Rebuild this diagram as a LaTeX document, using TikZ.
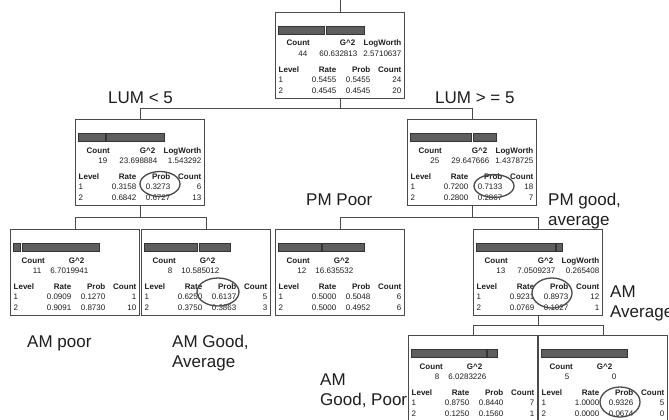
\documentclass[tikz,border=0pt]{standalone}
\usepackage{fontspec}
\setmainfont{Liberation Sans}
\usetikzlibrary{calc}
\definecolor{boxline}{HTML}{4A4A4A}
\definecolor{barfill}{HTML}{5E5E5E}
\definecolor{bardraw}{HTML}{353535}
\definecolor{inktext}{HTML}{1E1E1E}
\definecolor{circ}{HTML}{4A4A4A}
\tikzset{
  tbox/.style={draw=boxline, line width=0.9pt, minimum width=129pt, minimum height=86pt,
    inner sep=0pt, outer sep=0pt, anchor=north, fill=white},
  hd/.style={font=\fontsize{8}{9}\selectfont\bfseries, text=inktext, inner sep=0pt},
  vl/.style={font=\fontsize{8}{9}\selectfont, text=inktext, inner sep=0pt},
  lab/.style={font=\fontsize{17}{20}\selectfont, text=inktext, inner sep=0pt, anchor=base west},
  conn/.style={draw=boxline, line width=0.9pt},
  barseg/.style={fill=barfill, draw=bardraw, line width=0.6pt},
  ring/.style={draw=circ, line width=1.3pt},
}
\newcommand\twobars[1]{%
  \pgfmathsetmacro\splitx{3+86*#1}%
  \draw[barseg] (3,14) rectangle (\splitx-0.7,22);
  \draw[barseg] (\splitx+0.7,14) rectangle (89,22);
}
\newcommand\headS[4]{%
  \node[hd,anchor=base west] (#1hc) at (11,34) {Count};
  \node[hd,anchor=base east] (#1hg) at (80,34) {G\textasciicircum 2};
  \node[hd,anchor=base east] (#1hl) at (126,34) {LogWorth};
  \node[vl,anchor=base east] (#1vc) at (32,44.5) {#2};
  \node[vl,anchor=base east] (#1vg) at (82,44.5) {#3};
  \node[vl,anchor=base east] (#1vl) at (126,44.5) {#4};
}
\newcommand\headL[3]{%
  \node[hd,anchor=base west] (#1hc) at (11,34) {Count};
  \node[hd,anchor=base east] (#1hg) at (74,34) {G\textasciicircum 2};
  \node[vl,anchor=base east] (#1vc) at (31,44.5) {#2};
  \node[vl,anchor=base east] (#1vg) at (78,44.5) {#3};
}
\newcommand\rowsT[7]{%
  \node[hd,anchor=base west] (#1lv) at (3,60) {Level};
  \node[hd,anchor=base east] (#1rt) at (61,60) {Rate};
  \node[hd,anchor=base east] (#1pb) at (95,60) {Prob};
  \node[hd,anchor=base east] (#1ct) at (126,60) {Count};
  \node[vl,anchor=base west] (#1la) at (3,70.5) {1};
  \node[vl,anchor=base east] (#1ra) at (61,70.5) {#2};
  \node[vl,anchor=base east] (#1pa) at (95,70.5) {#3};
  \node[vl,anchor=base east] (#1ca) at (126,70.5) {#4};
  \node[vl,anchor=base west] (#1lb) at (3,81) {2};
  \node[vl,anchor=base east] (#1rb) at (61,81) {#5};
  \node[vl,anchor=base east] (#1pbb) at (95,81) {#6};
  \node[vl,anchor=base east] (#1cb) at (126,81) {#7};
}
\begin{document}
\begin{tikzpicture}[x=1pt,y=-1pt]
\useasboundingbox (0,0) rectangle (669,420);
\fill[white] (0,0) rectangle (669,420);
\clip (0,0) rectangle (669,420);

% boxes
\node[tbox] (root) at (340,12) {};
\node[tbox] (L) at (140,119) {};
\node[tbox] (R) at (472,119) {};
\node[tbox] (LL) at (75,229) {};
\node[tbox] (LR) at (206,229) {};
\node[tbox] (PP) at (340,229) {};
\node[tbox] (PG) at (538,229) {};
\node[tbox] (AL) at (473,335) {};
\node[tbox] (AR) at (603,335) {};

% connectors
\coordinate (topend) at (340,0);
\draw[conn] (root.north) -- (topend);
\draw[conn] (root.south) -- ++(0,10) -| (L.north);
\draw[conn] (root.south) -- ++(0,10) -| (R.north);
\draw[conn] (L.south) -- ++(0,12) -| (LL.north);
\draw[conn] (L.south) -- ++(0,12) -| (LR.north);
\draw[conn] (R.south) -- ++(0,12) -| (PP.north);
\draw[conn] (R.south) -- ++(0,12) -| (PG.north);
\draw[conn] (PG.south) -- ++(0,10) -| (AL.north);
\draw[conn] (PG.south) -- ++(0,10) -| (AR.north);

% contents
\begin{scope}[shift={(root.north west)}]
  \twobars{0.5455}
  \headS{root}{44}{60.632813}{2.5710637}
  \rowsT{root}{0.5455}{0.5455}{24}{0.4545}{0.4545}{20}
\end{scope}
\begin{scope}[shift={(L.north west)}]
  \twobars{0.3158}
  \headS{L}{19}{23.698884}{1.543292}
  \rowsT{L}{0.3158}{0.3273}{6}{0.6842}{0.6727}{13}
\end{scope}
\begin{scope}[shift={(R.north west)}]
  \twobars{0.72}
  \headS{R}{25}{29.647666}{1.4378725}
  \rowsT{R}{0.7200}{0.7133}{18}{0.2800}{0.2867}{7}
\end{scope}
\begin{scope}[shift={(LL.north west)}]
  \twobars{0.0909}
  \headL{LL}{11}{6.7019941}
  \rowsT{LL}{0.0909}{0.1270}{1}{0.9091}{0.8730}{10}
\end{scope}
\begin{scope}[shift={(LR.north west)}]
  \twobars{0.625}
  \headL{LR}{8}{10.585012}
  \rowsT{LR}{0.6250}{0.6137}{5}{0.3750}{0.3863}{3}
\end{scope}
\begin{scope}[shift={(PP.north west)}]
  \twobars{0.5}
  \headL{PP}{12}{16.635532}
  \rowsT{PP}{0.5000}{0.5048}{6}{0.5000}{0.4952}{6}
\end{scope}
\begin{scope}[shift={(PG.north west)}]
  \twobars{0.9231}
  \headS{PG}{13}{7.0509237}{0.265408}
  \rowsT{PG}{0.9231}{0.8973}{12}{0.0769}{0.1027}{1}
\end{scope}
\begin{scope}[shift={(AL.north west)}]
  \twobars{0.875}
  \headL{AL}{8}{6.0283226}
  \rowsT{AL}{0.8750}{0.8440}{7}{0.1250}{0.1560}{1}
\end{scope}
\begin{scope}[shift={(AR.north west)}]
  \draw[barseg] (3,14) rectangle (89,22);
  \headL{AR}{5}{0}
  \rowsT{AR}{1.0000}{0.9326}{5}{0.0000}{0.0674}{0}
\end{scope}

% hand-drawn rings
\draw[ring] (160,184) ellipse [x radius=20pt, y radius=12.5pt];
\draw[ring] (494,186) ellipse [x radius=20pt, y radius=11.5pt];
\draw[ring] (218,292) ellipse [x radius=21pt, y radius=14pt];
\draw[ring] (552,293) ellipse [x radius=20pt, y radius=15pt];
\draw[ring] (620,402) ellipse [x radius=20pt, y radius=15pt];

% split labels
\node[lab] (lum1) at (108,103) {LUM < 5};
\node[lab] (lum2) at (435,103) {LUM > = 5};
\node[lab] (pmp) at (306,205) {PM Poor};
\node[lab] (pmg1) at (548,205) {PM good,};
\node[lab] (pmg2) at (548,225) {average};
\node[lab] (amav1) at (610,297) {AM};
\node[lab] (amav2) at (610,317) {Average};
\node[lab] (amp) at (27,347) {AM poor};
\node[lab] (amga1) at (172,347) {AM Good,};
\node[lab] (amga2) at (172,367) {Average};
\node[lab] (amgp1) at (320,385) {AM};
\node[lab] (amgp2) at (320,405) {Good, Poor};
\end{tikzpicture}
\end{document}
